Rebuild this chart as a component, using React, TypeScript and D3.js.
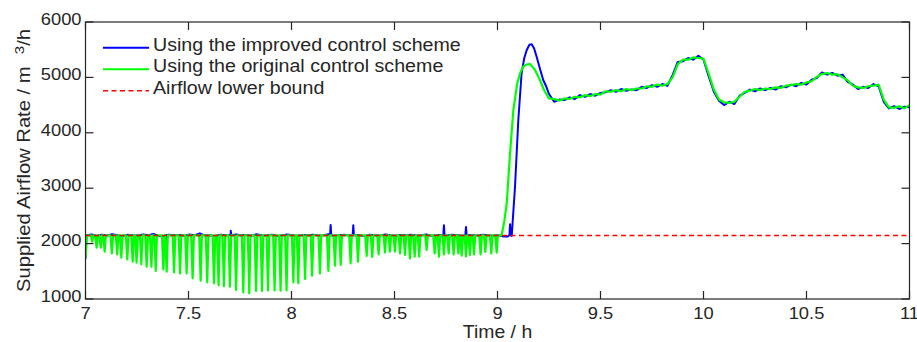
import React from "react";
import * as d3 from "d3";

// axis ticks
const xTickValues = [7, 7.5, 8, 8.5, 9, 9.5, 10, 10.5, 11];
const yTickValues = [1000, 2000, 3000, 4000, 5000, 6000];

const lowerBound = 2150;

// blue (improved scheme), early flat part: t = 7.005 + i * 0.025
const blueEarly = [
  2150, 2165, 2140, 2160, 2145, 2170, 2150, 2135, 2160, 2150,
  2145, 2165, 2150, 2175, 2140, 2130, 2160, 2150, 2155, 2140,
  2165, 2150, 2185, 2145, 2150, 2135, 2160, 2150, 2140, 2165,
  2150, 2155, 2140, 2170, 2150, 2145, 2160, 2135, 2150, 2165,
  2150, 2140, 2155, 2150, 2160, 2145, 2150, 2170, 2140, 2150,
  2160, 2145, 2155, 2150, 2135, 2160, 2150, 2145, 2165, 2150,
  2140, 2155, 2150, 2160, 2145, 2150, 2165, 2140, 2150, 2155,
  2145, 2160, 2150, 2140, 2155, 2150, 2145, 2160, 2150, 2140,
  2150, 2130,
];
const blueSpikeTimes = [7.39, 7.705, 8.19, 8.3, 8.74, 8.847];
const blueSpikeValues = [2060, 2230, 2336, 2330, 2330, 2300];
const blueRiseTimes = [9.05, 9.058, 9.061, 9.064, 9.069, 9.085, 9.101, 9.117, 9.13, 9.142, 9.155, 9.166, 9.178, 9.19, 9.205, 9.222, 9.235];
const blueRiseValues = [2130, 2150, 2350, 2150, 2140, 3027, 4231, 5074, 5350, 5495, 5590, 5600, 5520, 5374, 5170, 4953, 4850];
// late part: t = 9.25 + i * 0.025
const blueLate = [
  4700, 4560, 4600, 4590, 4640, 4610, 4680, 4650, 4700, 4670,
  4720, 4730, 4770, 4740, 4790, 4760, 4780, 4770, 4830, 4810,
  4860, 4830, 4880, 4850, 5040, 5280, 5290, 5350, 5320, 5390,
  5320, 5020, 4740, 4580, 4500, 4560, 4520, 4670, 4720, 4780,
  4750, 4800, 4770, 4810, 4780, 4840, 4820, 4870, 4840, 4900,
  4870, 4960, 4990, 5090, 5050, 5080, 5030, 5050, 4920, 4870,
  4790, 4830, 4810, 4880, 4840, 4560, 4440, 4480, 4430, 4470,
  4460,
];

// green (original scheme): dips below the bound
const greenDipTimes = [
  7.033, 7.054, 7.074, 7.093, 7.128, 7.154, 7.174, 7.203, 7.229, 7.248,
  7.271, 7.297, 7.32, 7.341, 7.378, 7.394, 7.43, 7.459, 7.491, 7.52,
  7.559, 7.591, 7.624, 7.646, 7.672, 7.701, 7.731, 7.766, 7.795, 7.828,
  7.857, 7.886, 7.918, 7.947, 7.976, 8.009, 8.033, 8.066, 8.1, 8.138,
  8.179, 8.211, 8.239, 8.287, 8.323, 8.365, 8.392, 8.423, 8.454, 8.478,
  8.502, 8.527, 8.551, 8.575, 8.598, 8.62, 8.656, 8.695, 8.716, 8.74,
  8.763, 8.787, 8.81, 8.826, 8.847, 8.866, 8.886, 8.918, 8.941, 8.97,
  8.996,
];
const greenDipValues = [
  2035, 1927, 1927, 1854, 1824, 1806, 1746, 1716, 1674, 1656,
  1626, 1584, 1584, 1505, 1535, 1493, 1481, 1463, 1463, 1373,
  1331, 1301, 1283, 1247, 1229, 1223, 1162, 1120, 1102, 1144,
  1144, 1156, 1156, 1150, 1156, 1301, 1283, 1361, 1421, 1463,
  1505, 1602, 1614, 1644, 1674, 1776, 1758, 1806, 1842, 1854,
  1854, 1824, 1794, 1734, 1764, 1764, 1884, 1824, 1764, 1806,
  1824, 1806, 1824, 1782, 1770, 1794, 1806, 1806, 1848, 1824,
  1836,
];
const greenRiseTimes = [9.02, 9.033, 9.045, 9.061, 9.077, 9.096, 9.11, 9.125, 9.14, 9.158, 9.17, 9.182, 9.195, 9.206, 9.225];
const greenRiseValues = [2150, 2400, 2733, 3635, 4412, 4893, 5080, 5193, 5230, 5240, 5190, 5133, 5040, 4953, 4780];
const greenLate = [
  4620, 4610, 4580, 4620, 4610, 4650, 4640, 4680, 4660, 4700,
  4690, 4750, 4740, 4770, 4750, 4790, 4770, 4800, 4800, 4840,
  4830, 4870, 4850, 4880, 5000, 5240, 5320, 5320, 5360, 5350,
  5340, 5070, 4780, 4600, 4550, 4540, 4560, 4650, 4740, 4760,
  4790, 4770, 4800, 4790, 4820, 4810, 4850, 4860, 4880, 4870,
  4910, 4930, 5010, 5060, 5080, 5050, 5060, 5000, 4950, 4850,
  4820, 4810, 4840, 4850, 4870, 4600, 4460, 4450, 4480, 4440,
  4500,
];

const legendItems = [
  { label: "Using the improved control scheme", color: "#0000ff", dash: "" },
  { label: "Using the original control scheme", color: "#00ff00", dash: "" },
  { label: "Airflow lower bound", color: "#ff0000", dash: "5,3.5" },
];

const W = 917;
const H = 342;
const left = 85.5, right = 909.5, top = 22, bottom = 299;
const font = 'Arial, "Liberation Sans", sans-serif';
const ink = "#262626";
const stretch = 1.11;

// text with the slight horizontal stretch seen in the reference
function Label(props: { x: number; y: number; anchor?: string; size: number; rotate?: number; children: React.ReactNode }) {
  const r = props.rotate ? ` rotate(${props.rotate})` : "";
  return (
    <text
      transform={`translate(${props.x},${props.y})${r} scale(${stretch},1)`}
      textAnchor={props.anchor || "start"}
      fontSize={props.size}
      fill={ink}
    >
      {props.children}
    </text>
  );
}

function buildBlue(): [number, number][] {
  const pts: [number, number][] = [[7.0, 1720]];
  blueEarly.forEach((v, i) => pts.push([7.005 + i * 0.025, v]));
  blueSpikeTimes.forEach((t, i) => {
    pts.push([t - 0.003, lowerBound]);
    pts.push([t, blueSpikeValues[i]]);
    pts.push([t + 0.003, lowerBound]);
  });
  blueRiseTimes.forEach((t, i) => pts.push([t, blueRiseValues[i]]));
  blueLate.forEach((v, i) => pts.push([9.25 + i * 0.025, v]));
  return pts.sort((a, b) => a[0] - b[0]);
}

function buildGreen(): [number, number][] {
  const pts: [number, number][] = [[7.0, 1740], [7.008, lowerBound]];
  greenDipTimes.forEach((t, i) => {
    pts.push([t - 0.007, lowerBound]);
    pts.push([t, greenDipValues[i]]);
    pts.push([t + 0.006, lowerBound]);
  });
  greenRiseTimes.forEach((t, i) => pts.push([t, greenRiseValues[i]]));
  greenLate.forEach((v, i) => pts.push([9.25 + i * 0.025, v]));
  return pts.sort((a, b) => a[0] - b[0]);
}

export default function App() {
  const x = d3.scaleLinear().domain([7, 11]).range([left, right]);
  const y = d3.scaleLinear().domain([1000, 6000]).range([bottom, top]);
  const line = d3.line<[number, number]>().x((d) => x(d[0])).y((d) => y(d[1]));

  const blue = buildBlue();
  const green = buildGreen();
  const boundY = Math.round(y(lowerBound)) + 0.5;

  return (
    <svg width={W} height={H} style={{ position: "absolute", left: 0, top: 0, background: "#fff" }} fontFamily={font}>
      <rect x={0} y={0} width={W} height={H} fill="#fff" />
      <defs>
        <clipPath id="plot">
          <rect x={left} y={top} width={right - left} height={bottom - top} />
        </clipPath>
      </defs>

      <g clipPath="url(#plot)">
        <path d={line(blue) || ""} fill="none" stroke="#0000ff" strokeWidth={2} strokeLinejoin="round" />
        <path d={line(green) || ""} fill="none" stroke="#00ff00" strokeWidth={2.2} strokeLinejoin="round" />
        <line x1={x(7)} x2={x(11)} y1={boundY} y2={boundY} stroke="#ff0000" strokeWidth={1.4} strokeDasharray="5,3.5" />
      </g>

      {/* axes box */}
      <rect x={left} y={top} width={right - left} height={bottom - top} fill="none" stroke={ink} strokeWidth={1.2} />
      {xTickValues.map((v) => (
        <g key={"x" + v}>
          <line x1={x(v)} x2={x(v)} y1={bottom} y2={bottom - 8} stroke={ink} strokeWidth={1.2} />
          <line x1={x(v)} x2={x(v)} y1={top} y2={top + 8} stroke={ink} strokeWidth={1.2} />
          <Label x={x(v)} y={318.5} anchor="middle" size={16.5}>{String(v)}</Label>
        </g>
      ))}
      {yTickValues.map((v) => (
        <g key={"y" + v}>
          <line x1={left} x2={left + 8} y1={y(v)} y2={y(v)} stroke={ink} strokeWidth={1.2} />
          <line x1={right} x2={right - 8} y1={y(v)} y2={y(v)} stroke={ink} strokeWidth={1.2} />
          <Label x={81.5} y={y(v) + 2.8} anchor="end" size={16.5}>{String(v)}</Label>
        </g>
      ))}

      <Label x={(left + right) / 2} y={338} anchor="middle" size={17.5}>Time / h</Label>
      <Label x={30} y={(top + bottom) / 2} anchor="middle" size={18.2} rotate={-90}>
        <tspan>Supplied Airflow Rate / m</tspan>
        <tspan dx={11} dy={-6} fontSize={13.5}>3</tspan>
        <tspan dy={6}>/h</tspan>
      </Label>

      {legendItems.map((d, i) => {
        const ly = 47.7 + i * 21.5;
        return (
          <g key={d.label}>
            <line x1={103} x2={149} y1={ly} y2={ly} stroke={d.color} strokeWidth={d.dash ? 1.4 : 2} strokeDasharray={d.dash || undefined} />
            <Label x={153} y={ly + 3} size={17.7}>{d.label}</Label>
          </g>
        );
      })}
    </svg>
  );
}
